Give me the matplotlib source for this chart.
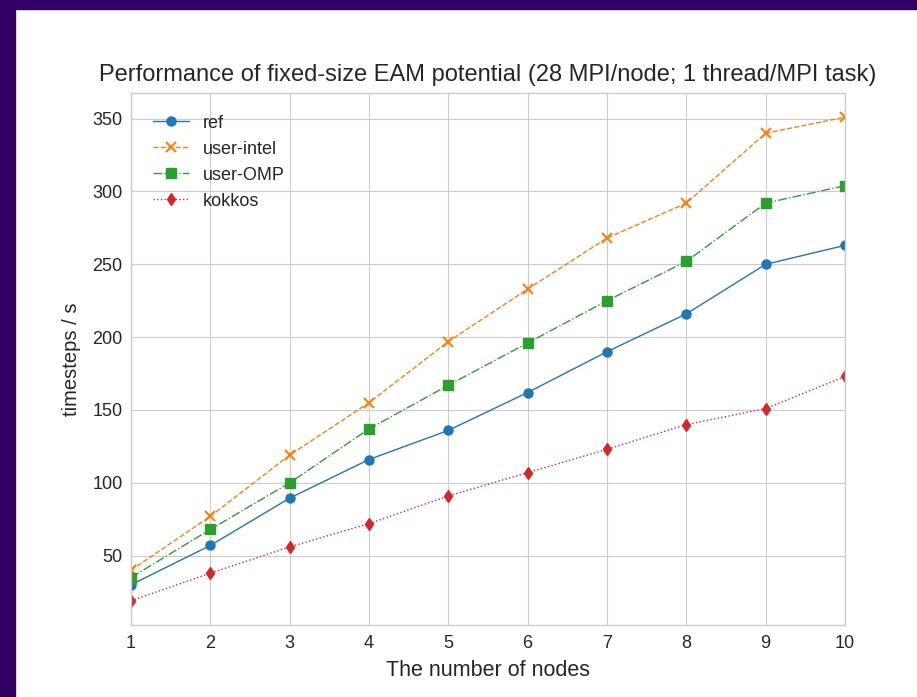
import matplotlib
matplotlib.use("Agg")
import matplotlib.pyplot as plt
import matplotlib.patches as patches

nodes = [1, 2, 3, 4, 5, 6, 7, 8, 9, 10]
ref = [30, 57, 89.5, 116, 136, 162, 190, 216, 250, 263]
user_intel = [40, 77, 119, 155, 197, 233, 268, 292, 340, 351]
user_omp = [35, 68, 100, 137, 167, 196, 225, 252, 292, 304]
kokkos = [19, 38, 56, 72, 91, 107, 123, 140, 151, 173]

plt.style.use("seaborn-v0_8-whitegrid")
plt.rcParams['font.family'] = ['Liberation Sans', 'DejaVu Sans']

fig = plt.figure(figsize=(9.17, 6.97), dpi=100)
fig.patches.append(patches.Rectangle((0, 1 - 9 / 697), 1, 9 / 697, transform=fig.transFigure,
                                     color="#330066", zorder=10))
fig.patches.append(patches.Rectangle((0, 0), 15 / 917, 1, transform=fig.transFigure,
                                     color="#330066", zorder=10))

ax = fig.add_axes([131 / 917, 1 - 625 / 697, (845 - 131) / 917, (625 - 93) / 697])
ax.plot(nodes, ref, marker='o', linestyle='-', linewidth=1, markersize=6.5, label="ref")
ax.plot(nodes, user_intel, marker='x', linestyle='--', linewidth=1, markersize=6.5,
        markeredgewidth=1.5, label="user-intel")
ax.plot(nodes, user_omp, marker='s', linestyle='-.', linewidth=1, markersize=6.5, label="user-OMP")
ax.plot(nodes, kokkos, marker='d', linestyle=':', linewidth=1, markersize=6.5, label="kokkos")
ax.set_xlim(1, 10)
ax.set_xticks(nodes)
ax.set_yticks([50, 100, 150, 200, 250, 300, 350])
for s in ax.spines.values():
    s.set_visible(True)
    s.set_color("#cccccc")
ax.tick_params(labelsize=13)
ax.tick_params(axis="x", pad=7)
ax.tick_params(axis="y", pad=6)
ax.set_xlabel("The number of nodes", fontsize=15.5, labelpad=6)
ax.set_ylabel("timesteps / s", fontsize=14.5, labelpad=8)
ax.set_title("Performance of fixed-size EAM potential (28 MPI/node; 1 thread/MPI task)",
             fontsize=17, pad=9)
ax.legend(loc="upper left", fontsize=13, borderaxespad=0.8)

fig.savefig("out.png", dpi=100)
